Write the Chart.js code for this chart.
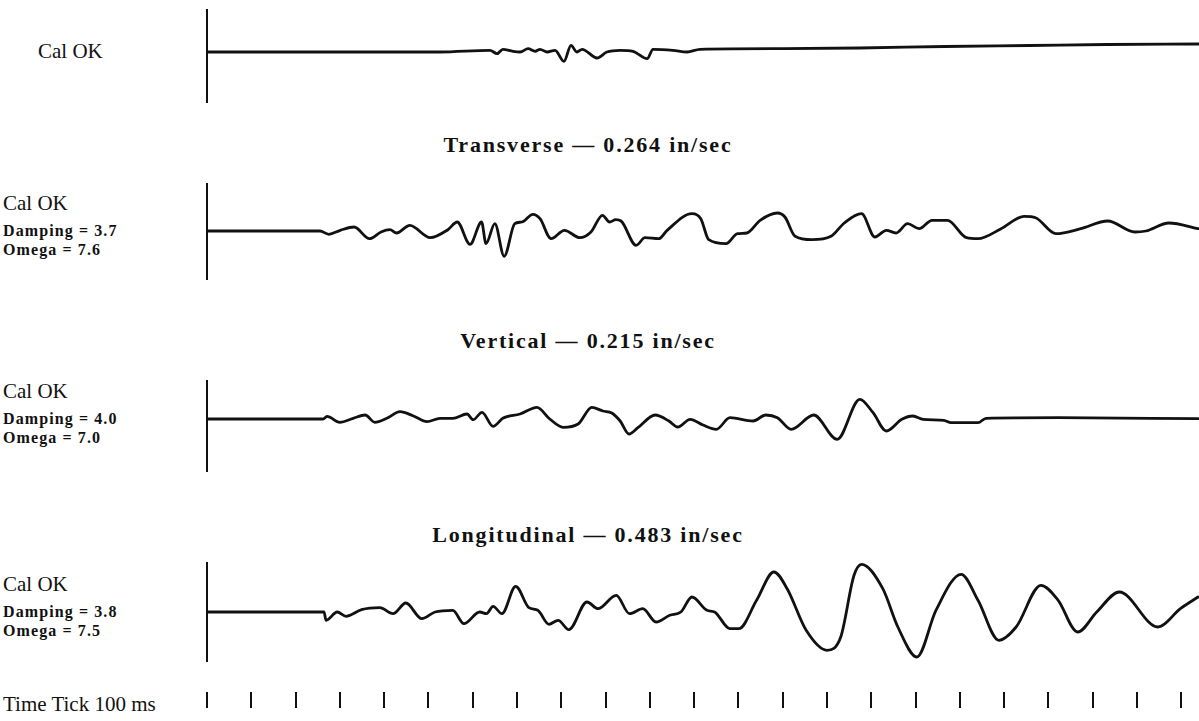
<!DOCTYPE html>
<html>
<head>
<meta charset="utf-8">
<script src="https://cdn.jsdelivr.net/npm/chart.js@4.4.0/dist/chart.umd.min.js"></script>
<style>
  body { margin: 0; background: #fff; }
  #hoja { position: relative; width: 1199px; height: 721px; overflow: hidden; background: #fff; color: #111; }
  .caja { position: absolute; left: 200px; width: 999px; }
  .txt { position: absolute; white-space: nowrap; line-height: 1; transform: translateY(-50%); font-family: "Liberation Serif", serif; }
  .cal { font-size: 21px; }
  .param { font-size: 16px; font-weight: bold; letter-spacing: 1.1px; }
  .titulo { font-size: 22px; font-weight: bold; letter-spacing: 1.8px; transform: translate(-50%, -50%); }
</style>
</head>
<body>
<div id="hoja"></div>
<script>
// tiempo en ms, amplitud en unidades del registro (arriba positivo)
const tiempoCal = [0, 526, 639, 655, 668, 691, 707, 725, 741, 752, 768, 786, 806, 822, 835, 847, 881, 903, 933, 962, 994, 1007, 1052, 1084, 1113, 1301, 1474, 1666, 1858, 2032, 2240];
const ampCal = [0, 0, 1.7, -1.7, 2.7, 0.7, 0, 3.3, 0.7, 2.7, 0, 1.7, -9.3, 6.7, 0, 2.7, -6, 0, 1.7, 0.7, -6.7, 2.7, 1.7, 0, 2.7, 3.3, 4, 5.5, 6.5, 7.5, 8];

const tiempoTrans = [0, 255, 275, 301, 332, 367, 393, 413, 428, 458, 504, 544, 565, 594, 620, 630, 650, 671, 695, 711,
  736, 752, 777, 807, 842, 867, 893, 909, 923, 935, 969, 989, 1020, 1039, 1095, 1115, 1133, 1172, 1198, 1219,
  1249, 1288, 1305, 1328, 1366, 1409, 1439, 1478, 1508, 1534, 1556, 1582, 1608, 1637, 1672, 1715, 1741, 1793, 1845, 1871,
  1917, 1973, 2034, 2095, 2120, 2172, 2238];
const ampTrans = [0, 0, -3.3, 0.7, 4, -7.7, -1, 1.3, -2, 5.7, -6.7, 1.3, 9, -13.3, 9, -12.7, 7.3, -25.3, 7.3, 9,
  16.7, 12.3, -7.7, 0.7, -6.7, -1, 15.7, 9, 11.3, 10, -14.3, -6.7, -7.7, 0.7, 17.3, 12.3, -8.7, -12.7, -2.7, -2,
  10.7, 18, 14, -5.3, -8.7, -5.3, 8, 17.3, -6, 0.7, -2, 7.3, 2.3, 10.7, 10.7, -6.7, -7.7, 2.3, 14.7, 13.3,
  -2.7, 2.3, 10, -1, 0, 8, 2.3];

const tiempoVert = [0, 262, 271, 300, 330, 357, 379, 406, 436, 465, 497, 526, 555, 587, 601, 621, 646, 668, 707, 745,
  774, 804, 838, 869, 894, 914, 933, 953, 973, 1012, 1043, 1063, 1091, 1120, 1150, 1181, 1233, 1262, 1288, 1319,
  1370, 1423, 1474, 1504, 1534, 1569, 1594, 1617, 1664, 1680, 1741, 1759, 1922, 2238];
const ampVert = [0, 0, 2.7, -3.3, 0.7, 4, -3.3, 0.7, 7.3, 3.3, -2.7, 0.7, 0.7, 5, -0.7, 6.7, -7.3, 0.7, 5, 11.7,
  0, -8.3, -5, 11.7, 8, 6, -2, -15, -8.7, 4, -2, -8, -0.3, -6, -10.3, 1.3, -2, 4, 1.3, -10.3,
  4, -20.3, 19.7, 6.3, -12, -0.3, 3, -0.3, -1.3, -3.7, -3.7, 0.7, 1.3, 0.3];

const tiempoLong = [0, 264, 269, 294, 314, 349, 390, 420, 449, 485, 515, 555, 580, 616, 631, 646, 666, 697, 727, 747,
  772, 793, 817, 858, 883, 924, 954, 984, 1014, 1045, 1070, 1095, 1129, 1146, 1181, 1201, 1241, 1280, 1310, 1353,
  1400, 1431, 1461, 1478, 1526, 1560, 1603, 1646, 1703, 1741, 1788, 1827, 1883, 1922, 1966, 2009, 2060, 2147, 2198, 2238];
const ampLong = [0, 0, -8.3, 0, -4.3, 2.3, 4.3, -1.7, 9, -6.7, 0, 1.7, -11.7, 0, -1.7, 5.7, -1.7, 25.7, 4.3, 1.7,
  -12.3, -8.3, -17.7, 10, 3.3, 16.7, -1.7, 3.3, -10, -3.3, 0, 15, 1.7, 0, -16.7, -16.7, 11.7, 40, 23.3, -18.3,
  -38.3, -25, 36.7, 47.7, 23.3, -15, -45, 1.7, 37.7, 11.7, -28.3, -15, 26.7, 11.7, -20, 0, 20, -15, 3.3, 15];

const titulos = ['Transverse \u2014 0.264 in/sec', 'Vertical \u2014 0.215 in/sec', 'Longitudinal \u2014 0.483 in/sec'];
const damping = ['3.7', '4.0', '3.8'];
const omega = ['7.6', '7.0', '7.5'];
const TIEMPO_MAX = 2240;
const PASO_TICK = 100; // marcas de tiempo cada 100 ms
const TEXTO_TICK = 'Time Tick 100 ms';

const hoja = document.getElementById('hoja');

function agregarTexto(texto, clase, x, y) {
  const el = document.createElement('div');
  el.className = 'txt ' + clase;
  el.textContent = texto;
  el.style.left = x + 'px';
  el.style.top = y + 'px';
  hoja.appendChild(el);
  return el;
}

function crearCanvas(top, alto) {
  const caja = document.createElement('div');
  caja.className = 'caja';
  caja.style.top = top + 'px';
  caja.style.height = alto + 'px';
  const canvas = document.createElement('canvas');
  caja.appendChild(canvas);
  hoja.appendChild(caja);
  return canvas;
}

function crearTraza(top, alto, yMin, yMax, tiempos, amps) {
  const canvas = crearCanvas(top, alto);
  return new Chart(canvas, {
    type: 'line',
    data: {
      datasets: [{
        data: tiempos.map((t, i) => ({ x: t, y: amps[i] })),
        borderColor: '#111',
        borderWidth: 2.8,
        pointRadius: 0,
        cubicInterpolationMode: 'monotone',
        borderJoinStyle: 'round',
        borderCapStyle: 'round',
        fill: false
      }]
    },
    options: {
      responsive: true,
      maintainAspectRatio: false,
      animation: false,
      layout: { padding: { left: 7, right: 0, top: 0, bottom: 0 } },
      scales: {
        x: { type: 'linear', min: 0, max: TIEMPO_MAX, display: false },
        y: {
          min: yMin,
          max: yMax,
          ticks: { display: false },
          grid: { display: false },
          border: { display: true, color: '#111', width: 2 },
          afterFit: s => { s.width = 0; }
        }
      },
      plugins: { legend: { display: false }, tooltip: { enabled: false } }
    }
  });
}

function crearTicks(top, alto) {
  const canvas = crearCanvas(top, alto);
  return new Chart(canvas, {
    type: 'line',
    data: { datasets: [] },
    options: {
      responsive: true,
      maintainAspectRatio: false,
      animation: false,
      layout: { padding: { left: 7, right: 0, top: 0, bottom: 0 } },
      scales: {
        x: {
          type: 'linear', min: 0, max: TIEMPO_MAX,
          ticks: { display: false, stepSize: PASO_TICK, includeBounds: false },
          grid: { color: '#111', lineWidth: 2, drawTicks: false },
          border: { display: false },
          afterFit: s => { s.height = 0; }
        },
        y: { display: false, min: 0, max: 1 }
      },
      plugins: { legend: { display: false }, tooltip: { enabled: false } }
    }
  });
}

// registro de calibracion
crearTraza(9, 94, -51, 43, tiempoCal, ampCal);
agregarTexto('Cal OK', 'cal', 38, 51);

// tres componentes
crearTraza(183, 97, -49, 48, tiempoTrans, ampTrans);
crearTraza(380, 92, -53, 39, tiempoVert, ampVert);
crearTraza(562, 100, -50, 50, tiempoLong, ampLong);

const baseY = [231, 419, 612];
const tituloY = [145, 341, 535];
baseY.forEach((y, i) => {
  agregarTexto('Cal OK', 'cal', 3, y - 28);
  agregarTexto('Damping = ' + damping[i], 'param', 3, y);
  agregarTexto('Omega = ' + omega[i], 'param', 3, y + 19);
  agregarTexto(titulos[i], 'titulo', 588, tituloY[i]);
});

crearTicks(692, 16);
agregarTexto(TEXTO_TICK, 'cal', 3, 704);
</script>
</body>
</html>
